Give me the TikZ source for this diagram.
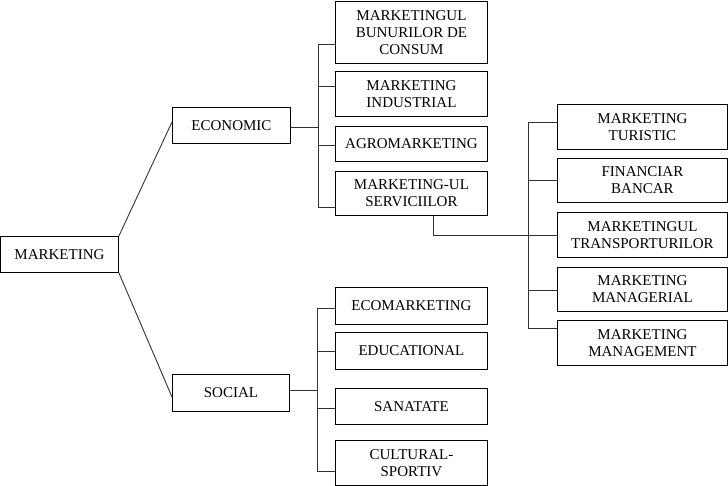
\documentclass[tikz,border=0pt]{standalone}
\usepackage{fontspec}
\setmainfont{Liberation Serif}
\begin{document}
\begin{tikzpicture}[x=1pt,y=-1pt,
  box/.style={draw=black,line width=0.9pt,inner sep=0pt,align=center,anchor=north west,
    font=\fontsize{15}{17}\selectfont},
  link/.style={draw=black!80,line width=0.9pt}]
\useasboundingbox (0,0) rectangle (728,486);
% level 0
\node[box,minimum width=118,minimum height=36] (mk) at (0,236) {MARKETING};
% level 1
\node[box,minimum width=118,minimum height=36] (eco) at (172,107) {ECONOMIC};
\node[box,minimum width=117,minimum height=37] (soc) at (172,374) {SOCIAL};
% economic children
\node[box,minimum width=152,minimum height=62] (b1) at (335,1) {MARKETINGUL\\BUNURILOR DE\\CONSUM};
\node[box,minimum width=152,minimum height=45] (b2) at (335,71) {MARKETING\\INDUSTRIAL};
\node[box,minimum width=152,minimum height=35] (b3) at (335,126) {AGROMARKETING};
\node[box,minimum width=152,minimum height=44] (b4) at (335,171) {MARKETING-UL\\SERVICIILOR};
% services children
\node[box,minimum width=170,minimum height=45] (s1) at (557,104) {MARKETING\\TURISTIC};
\node[box,minimum width=170,minimum height=44] (s2) at (557,158) {FINANCIAR\\BANCAR};
\node[box,minimum width=170,minimum height=45] (s3) at (557,212) {MARKETINGUL\\TRANSPORTURILOR};
\node[box,minimum width=170,minimum height=44] (s4) at (557,267) {MARKETING\\MANAGERIAL};
\node[box,minimum width=170,minimum height=45] (s5) at (557,320) {MARKETING\\MANAGEMENT};
% social children
\node[box,minimum width=152,minimum height=37] (c1) at (335,287) {ECOMARKETING};
\node[box,minimum width=152,minimum height=37] (c2) at (335,332) {EDUCATIONAL};
\node[box,minimum width=152,minimum height=36] (c3) at (335,388) {SANATATE};
\node[box,minimum width=152,minimum height=45] (c4) at (335,440) {CULTURAL-\\SPORTIV};
% main links
\draw[link] (mk.north east) -- (eco.west |- 0,122);
\draw[link] (mk.south east) -- (soc.west |- 0,397);
% economic bus
\coordinate (ej) at (318,127);
\coordinate (e1) at (318,44);
\coordinate (e2) at (318,86);
\coordinate (e3) at (318,145);
\coordinate (e4) at (318,207);
\draw[link] (eco.east |- ej) -- (ej);
\draw[link] (e1) -- (e4);
\draw[link] (e1) -- (b1.west |- e1);
\draw[link] (e2) -- (b2.west |- e2);
\draw[link] (e3) -- (b3.west |- e3);
\draw[link] (e4) -- (b4.west |- e4);
% services bus
\coordinate (sd) at (433,235);
\coordinate (r1) at (528,122);
\coordinate (r2) at (528,180);
\coordinate (r3) at (528,235);
\coordinate (r4) at (528,290);
\coordinate (r5) at (528,328);
\draw[link] (b4.south -| sd) -- (sd) -- (s3.west |- sd);
\draw[link] (r1) -- (r5);
\draw[link] (r1) -- (s1.west |- r1);
\draw[link] (r2) -- (s2.west |- r2);
\draw[link] (r4) -- (s4.west |- r4);
\draw[link] (r5) -- (s5.west |- r5);
% social bus
\coordinate (sj) at (317,390);
\coordinate (q1) at (317,308);
\coordinate (q2) at (317,351);
\coordinate (q3) at (317,408);
\coordinate (q4) at (317,471);
\draw[link] (soc.east |- sj) -- (sj);
\draw[link] (q1) -- (q4);
\draw[link] (q1) -- (c1.west |- q1);
\draw[link] (q2) -- (c2.west |- q2);
\draw[link] (q3) -- (c3.west |- q3);
\draw[link] (q4) -- (c4.west |- q4);
\end{tikzpicture}
\end{document}
